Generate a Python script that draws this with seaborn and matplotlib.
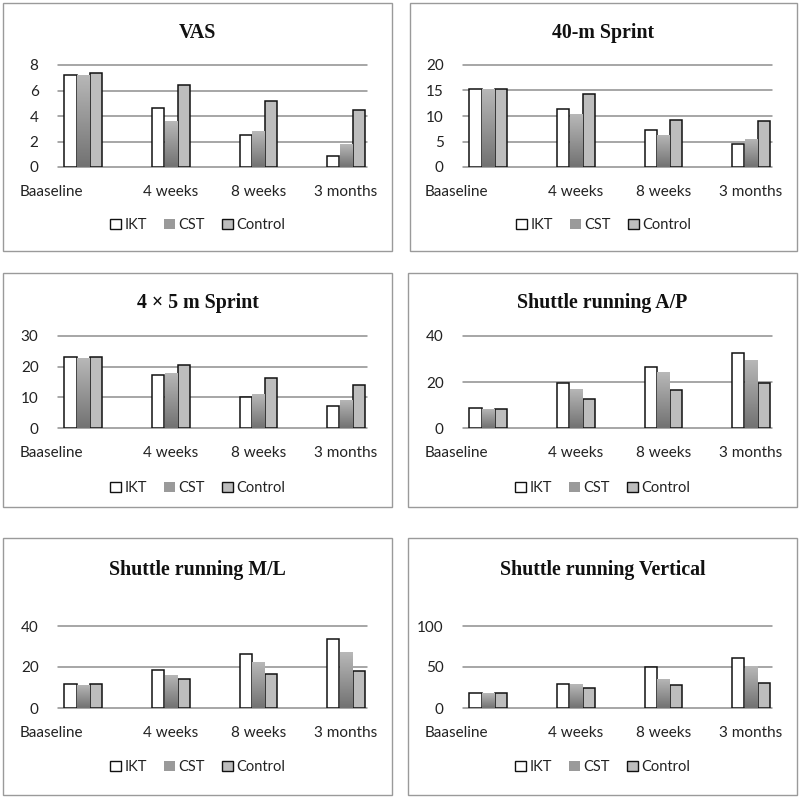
import numpy as np
import pandas as pd
import matplotlib
matplotlib.use("Agg")
import matplotlib.pyplot as plt
from matplotlib.patches import Rectangle, Patch
import matplotlib.transforms as mtransforms
import seaborn as sns

# ---------------- data ----------------
times = ["Baaseline", "4 weeks", "8 weeks", "3 months"]
groups = ["IKT", "CST", "Control"]

titles = ["VAS", "40-m Sprint", "4 \u00d7 5 m Sprint",
          "Shuttle running A/P", "Shuttle running M/L", "Shuttle running Vertical"]

vas_ikt = [7.2, 4.6, 2.5, 0.9]
vas_cst = [7.25, 3.6, 2.8, 1.8]
vas_ctl = [7.4, 6.4, 5.2, 4.5]

spr40_ikt = [15.3, 11.3, 7.3, 4.5]
spr40_cst = [15.3, 10.3, 6.3, 5.5]
spr40_ctl = [15.3, 14.3, 9.2, 9.1]

spr45_ikt = [23.0, 17.3, 10.2, 7.2]
spr45_cst = [22.8, 18.0, 11.0, 9.2]
spr45_ctl = [23.0, 20.4, 16.2, 14.0]

ap_ikt = [8.7, 19.6, 26.7, 32.6]
ap_cst = [8.4, 17.1, 24.2, 29.4]
ap_ctl = [8.4, 12.6, 16.7, 19.6]

ml_ikt = [11.9, 18.4, 26.5, 33.8]
ml_cst = [11.4, 16.1, 22.4, 27.3]
ml_ctl = [11.9, 14.1, 16.6, 17.9]

vert_ikt = [17.9, 29.7, 49.6, 61.0]
vert_cst = [17.9, 28.9, 35.8, 50.8]
vert_ctl = [17.9, 24.0, 27.6, 30.9]

yticks_list = [[0, 2, 4, 6, 8], [0, 5, 10, 15, 20], [0, 10, 20, 30],
               [0, 20, 40], [0, 20, 40], [0, 50, 100]]

series = [(vas_ikt, vas_cst, vas_ctl), (spr40_ikt, spr40_cst, spr40_ctl),
          (spr45_ikt, spr45_cst, spr45_ctl), (ap_ikt, ap_cst, ap_ctl),
          (ml_ikt, ml_cst, ml_ctl), (vert_ikt, vert_cst, vert_ctl)]

# ---------------- layout (pixels) ----------------
W, H = 800, 797
sns.set_theme(style="white")
plt.rcParams["font.family"] = ["Lato", "DejaVu Sans"]

fig = plt.figure(figsize=(W / 100, H / 100), dpi=100)
fig.patch.set_facecolor("white")

# (box x0, y0, x1, y1), (axes x0, x1, ytop, ybot), title y, legend y
layout = [
    ((3, 3, 392, 251), (58, 367, 65, 167), 33, 225),
    ((410, 3, 797, 251), (463, 772, 65, 167), 33, 225),
    ((3, 273, 392, 507), (58, 367, 336, 428), 303, 488),
    ((408, 273, 797, 507), (463, 772, 336, 428), 303, 488),
    ((3, 538, 392, 795), (58, 367, 626, 708), 570, 767),
    ((408, 538, 797, 795), (463, 772, 626, 708), 570, 767),
]

face = {"IKT": "#ffffff", "CST": "#9a9a9a", "Control": "#bdbdbd"}
grad_cmap = matplotlib.colors.LinearSegmentedColormap.from_list(
    "cst", ["#727272", "#b8b8b8"])

for i, ((bx0, by0, bx1, by1), (ax0, ax1, ayt, ayb), ty, ly) in enumerate(layout):
    # panel border
    fig.patches.append(Rectangle((bx0 / W, 1 - by1 / H), (bx1 - bx0) / W,
                                 (by1 - by0) / H, transform=fig.transFigure,
                                 fill=False, edgecolor="#9a9a9a", linewidth=1.0))
    ax = fig.add_axes([ax0 / W, 1 - ayb / H, (ax1 - ax0) / W, (ayb - ayt) / H])
    ikt, cst, ctl = series[i]
    df = pd.DataFrame({
        "time": times * 3,
        "group": ["IKT"] * 4 + ["CST"] * 4 + ["Control"] * 4,
        "value": list(ikt) + list(cst) + list(ctl),
    })
    sns.barplot(data=df, x="time", y="value", hue="group", order=times,
                hue_order=groups, palette=face, width=0.44, gap=0.05,
                legend=False, ax=ax, saturation=1)
    yt = yticks_list[i]
    for g, cont in zip(groups, ax.containers):
        for bar in cont:
            if g == "CST":
                bar.set_edgecolor("none")
                bar.set_linewidth(0)
                x0, y0 = bar.get_x(), bar.get_y()
                w, h = bar.get_width(), bar.get_height()
                grad = np.linspace(0, 1, 100).reshape(-1, 1)
                im = ax.imshow(grad, extent=[x0, x0 + w, y0, y0 + h],
                               origin="lower", aspect="auto", cmap=grad_cmap,
                               zorder=bar.get_zorder() + 0.1)
                im.set_clip_path(bar)
            else:
                bar.set_edgecolor("#111111")
                bar.set_linewidth(1.1)
    ax.set_xlim(-0.29, 3.24)
    ax.set_ylim(0, yt[-1])
    ax.set_yticks(yt)
    ax.set_xlabel("")
    ax.set_ylabel("")
    for s in ax.spines.values():
        s.set_visible(False)
    ax.set_axisbelow(True)
    ax.yaxis.grid(True, color="#8e8e8e", linewidth=1.1)
    for gl in ax.get_ygridlines():
        gl.set_clip_on(False)
    ax.tick_params(axis="both", length=0, labelsize=11, colors="#222222")
    ax.tick_params(axis="x", pad=13)
    ax.tick_params(axis="y", pad=14)
    ax.set_facecolor("none")
    # the first category label sits left of its bars in the original
    first = ax.get_xticklabels()[0]
    first.set_transform(first.get_transform() +
                        mtransforms.ScaledTranslation(-0.32, 0, fig.dpi_scale_trans))

    cx = (bx0 + bx1) / 2
    fig.text(cx / W, 1 - ty / H, titles[i], ha="center", va="center",
             family="Liberation Serif", fontweight="bold", fontsize=14.3,
             color="#111111")
    handles = [Patch(facecolor="#ffffff", edgecolor="#111111", linewidth=1.0),
               Patch(facecolor="#9a9a9a", edgecolor="none"),
               Patch(facecolor="#bdbdbd", edgecolor="#111111", linewidth=1.0)]
    fig.legend(handles, groups, loc="center", bbox_to_anchor=(cx / W, 1 - ly / H),
               ncol=3, frameon=False, fontsize=10.5, handlelength=0.75,
               handleheight=0.75, handletextpad=0.2, columnspacing=1.2,
               borderpad=0, labelcolor="#222222")

fig.savefig("out.png", dpi=100, facecolor="white")
